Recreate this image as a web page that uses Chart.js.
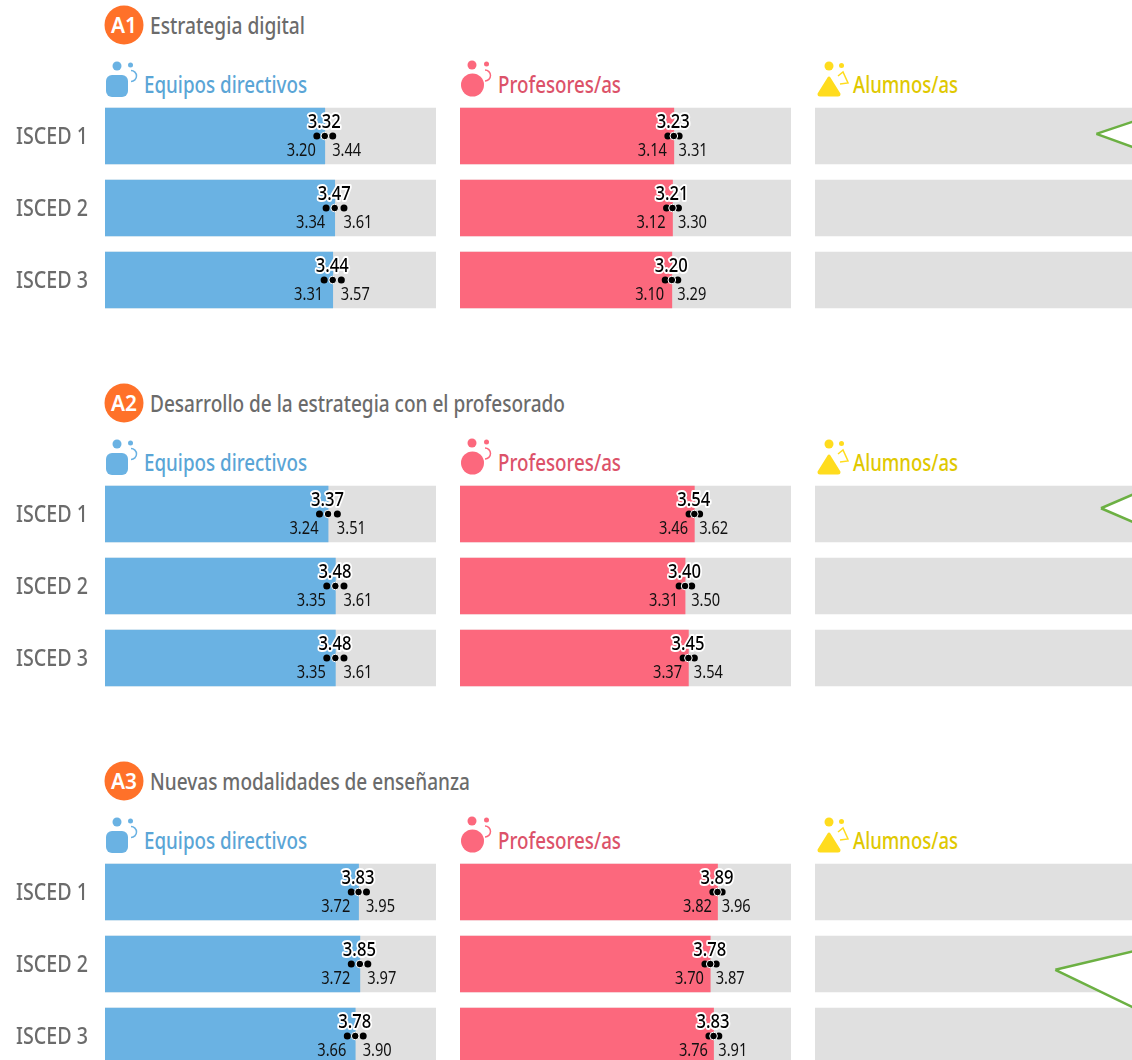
<!DOCTYPE html>
<html lang="es">
<head>
<meta charset="utf-8">
<title>Estrategia digital</title>
<script src="https://cdn.jsdelivr.net/npm/chart.js@4"></script>
<style>
    html, body { margin: 0; padding: 0; background: #fff; }
    body { width: 1132px; height: 1060px; overflow: hidden; position: relative; font-family: "Noto Sans", sans-serif; }
    .panel { position: absolute; height: 216px; }
    #headers { position: absolute; left: 0; top: 0; }
</style>
</head>
<body>
<svg id="headers" width="1132" height="1060"></svg>
<script>
// ejes
const categories = ['ISCED 1', 'ISCED 2', 'ISCED 3'];
const axisMax = 5;
const titles = ['Estrategia digital', 'Desarrollo de la estrategia con el profesorado', 'Nuevas modalidades de enseñanza'];
const badges = ['A1', 'A2', 'A3'];
const groups = ['Equipos directivos', 'Profesores/as', 'Alumnos/as'];

// A1
const a1EquiposMean = [3.32, 3.47, 3.44];
const a1EquiposLow = [3.20, 3.34, 3.31];
const a1EquiposHigh = [3.44, 3.61, 3.57];
const a1ProfesMean = [3.23, 3.21, 3.20];
const a1ProfesLow = [3.14, 3.12, 3.10];
const a1ProfesHigh = [3.31, 3.30, 3.29];
// A2
const a2EquiposMean = [3.37, 3.48, 3.48];
const a2EquiposLow = [3.24, 3.35, 3.35];
const a2EquiposHigh = [3.51, 3.61, 3.61];
const a2ProfesMean = [3.54, 3.40, 3.45];
const a2ProfesLow = [3.46, 3.31, 3.37];
const a2ProfesHigh = [3.62, 3.50, 3.54];
// A3
const a3EquiposMean = [3.83, 3.85, 3.78];
const a3EquiposLow = [3.72, 3.72, 3.66];
const a3EquiposHigh = [3.95, 3.97, 3.90];
const a3ProfesMean = [3.89, 3.78, 3.83];
const a3ProfesLow = [3.82, 3.70, 3.76];
const a3ProfesHigh = [3.96, 3.87, 3.91];

// triangulos verdes de la columna de alumnos: [valor, fila]
const a1Callout = [[4.25, -0.03], [5, -0.26], [5, 0.22], [4.25, -0.03]];
const a2Callout = [[4.32, -0.08], [5, -0.35], [5, 0.19], [4.32, -0.08]];
const a3Callout = [[3.63, 1.08], [5, 0.78], [5, 1.69], [3.63, 1.08]];

const blockTop = [100, 478, 856];
const columns = [
    { left: 0, width: 436, pad: 105, color: '#6ab2e3', text: '#5aa5d6' },
    { left: 460, width: 331, pad: 0, color: '#fc687d', text: '#dc5269' },
    { left: 815, width: 331, pad: 0, color: '#e0e0e0', text: '#e0c800' }
];

const fontFamily = '"Noto Sans", sans-serif';

// valores sobre las barras y etiquetas ISCED
const valueLabels = {
    id: 'valueLabels',
    afterDatasetsDraw(chart, args, opts) {
        const ctx = chart.ctx;
        const x = chart.scales.x;
        const y = chart.scales.y;
        ctx.save();
        ctx.textBaseline = 'middle';
        ctx.lineJoin = 'round';
        if (opts.rowLabels) {
            ctx.font = '500 23px ' + fontFamily;
            ctx.fillStyle = '#6b6b6b';
            ctx.textAlign = 'right';
            y.getLabels().forEach(function(label, i) {
                ctx.fillText(label, chart.chartArea.left - 17, y.getPixelForValue(i) + 1.5, 72);
            });
        }
        if (opts.mean) {
            opts.mean.forEach(function(m, i) {
                const cy = y.getPixelForValue(i);
                ctx.font = '18px ' + fontFamily;
                ctx.fillStyle = '#111';
                ctx.textAlign = 'right';
                ctx.fillText(opts.low[i].toFixed(2), x.getPixelForValue(opts.low[i]) - 1, cy + 15, 29);
                ctx.textAlign = 'left';
                ctx.fillText(opts.high[i].toFixed(2), x.getPixelForValue(opts.high[i]) - 0.5, cy + 15, 29);
                ctx.textAlign = 'center';
                ctx.font = '500 20px ' + fontFamily;
                ctx.strokeStyle = '#fff';
                ctx.lineWidth = 4;
                ctx.strokeText(m.toFixed(2), x.getPixelForValue(m) - 0.5, cy - 14, 33);
                ctx.fillStyle = '#000';
                ctx.fillText(m.toFixed(2), x.getPixelForValue(m) - 0.5, cy - 14, 33);
            });
        }
        ctx.restore();
    }
};

function scatterRows(values) {
    return values.map(function(v, i) { return { x: v, y: i }; });
}

function makeChart(blockIndex, colIndex, mean, low, high, callout) {
    const col = columns[colIndex];
    const canvas = document.createElement('canvas');
    const wrap = document.createElement('div');
    wrap.className = 'panel';
    wrap.style.left = col.left + 'px';
    wrap.style.top = blockTop[blockIndex] + 'px';
    wrap.style.width = col.width + 'px';
    wrap.appendChild(canvas);
    document.body.appendChild(wrap);

    const datasets = [{
        label: 'fondo',
        data: categories.map(function() { return axisMax; }),
        backgroundColor: '#e0e0e0',
        barThickness: 56,
        grouped: false,
        order: 5
    }];
    if (mean) {
        datasets.push({
            label: groups[colIndex],
            data: mean,
            backgroundColor: col.color,
            barThickness: 56,
            grouped: false,
            order: 4
        });
        datasets.push({
            type: 'scatter',
            label: 'intervalo',
            data: scatterRows(low).concat(scatterRows(high)),
            yAxisID: 'yRow',
            pointRadius: 3.5,
            pointBackgroundColor: '#000',
            pointBorderWidth: 0,
            order: 2
        });
        datasets.push({
            type: 'scatter',
            label: 'media',
            data: scatterRows(mean),
            yAxisID: 'yRow',
            pointRadius: 3.8,
            pointBackgroundColor: '#000',
            pointBorderColor: '#fff',
            pointBorderWidth: 1,
            order: 1
        });
    }
    if (callout) {
        datasets.push({
            type: 'scatter',
            label: 'nota',
            data: callout.map(function(p) { return { x: p[0], y: p[1] }; }),
            yAxisID: 'yRow',
            showLine: true,
            fill: 'shape',
            backgroundColor: '#fff',
            borderColor: '#6cb043',
            borderWidth: 2.5,
            pointRadius: 0,
            order: 1
        });
    }

    return new Chart(canvas, {
        type: 'bar',
        data: { labels: categories, datasets: datasets },
        options: {
            indexAxis: 'y',
            responsive: true,
            maintainAspectRatio: false,
            animation: false,
            layout: { autoPadding: false, padding: { left: col.pad, right: 0, top: 0, bottom: 0 } },
            scales: {
                x: { display: false, min: 0, max: axisMax },
                y: { display: false },
                yRow: { display: false, type: 'linear', offset: false, min: -0.5, max: 2.5, reverse: true }
            },
            plugins: {
                legend: { display: false },
                tooltip: { enabled: false },
                valueLabels: { mean: mean, low: low, high: high, rowLabels: colIndex === 0 }
            }
        },
        plugins: [valueLabels]
    });
}

makeChart(0, 0, a1EquiposMean, a1EquiposLow, a1EquiposHigh);
makeChart(0, 1, a1ProfesMean, a1ProfesLow, a1ProfesHigh);
makeChart(0, 2, null, null, null, a1Callout);
makeChart(1, 0, a2EquiposMean, a2EquiposLow, a2EquiposHigh);
makeChart(1, 1, a2ProfesMean, a2ProfesLow, a2ProfesHigh);
makeChart(1, 2, null, null, null, a2Callout);
makeChart(2, 0, a3EquiposMean, a3EquiposLow, a3EquiposHigh);
makeChart(2, 1, a3ProfesMean, a3ProfesLow, a3ProfesHigh);
makeChart(2, 2, null, null, null, a3Callout);

// cabeceras e iconos
const titleWidths = [155, 415, 320];
const groupX = [144, 498, 853];
const groupWidths = [163, 123, 105];
const fontStack = '&quot;Noto Sans&quot;, sans-serif';

function iconEquipos(c) {
    return '<circle cx="117" cy="66" r="4.5" fill="' + c + '"/><circle cx="130.5" cy="65" r="2.5" fill="' + c + '"/>' +
        '<rect x="106" y="75" width="22" height="22" rx="6" fill="' + c + '"/>' +
        '<path d="M131 70.5 a5.5 5.5 0 0 1 0 11" fill="none" stroke="' + c + '" stroke-width="1.5"/>';
}
function iconProfes(c) {
    return '<circle cx="472" cy="65" r="4.5" fill="' + c + '"/><circle cx="486.5" cy="64" r="2.5" fill="' + c + '"/>' +
        '<circle cx="472.5" cy="85" r="11.5" fill="' + c + '"/>' +
        '<path d="M485 70 a5.5 5.5 0 0 1 0 11" fill="none" stroke="' + c + '" stroke-width="1.5"/>';
}
function iconAlumnos(c) {
    return '<circle cx="829" cy="66" r="4.5" fill="' + c + '"/><circle cx="841.5" cy="65.5" r="2.5" fill="' + c + '"/>' +
        '<path d="M829 78 L819 94 Q819 95 820 95 L838 95 Q839 95 839 94 Z" fill="' + c + '" stroke="' + c + '" stroke-width="3" stroke-linejoin="round"/>' +
        '<path d="M838 76 L843 72 L848 83 L840 84" fill="none" stroke="' + c + '" stroke-width="1.5"/>';
}
const icons = [iconEquipos, iconProfes, iconAlumnos];

let svg = '';
blockTop.forEach(function(top, b) {
    const dy = top - 100;
    svg += '<circle cx="124" cy="' + (25 + dy) + '" r="19.5" fill="#ff7129"/>';
    svg += '<text x="111" y="' + (33 + dy) + '" fill="#fff" font-weight="600" font-size="22" textLength="26" lengthAdjust="spacingAndGlyphs" font-family="' + fontStack + '">' + badges[b] + '</text>';
    svg += '<text x="150" y="' + (34 + dy) + '" textLength="' + titleWidths[b] + '" lengthAdjust="spacingAndGlyphs" fill="#6b6b6b" font-weight="500" font-size="23" font-family="' + fontStack + '">' + titles[b] + '</text>';
    groups.forEach(function(g, i) {
        svg += '<g transform="translate(0,' + dy + ')">' + icons[i](i === 2 ? '#ffdc1e' : columns[i].color) + '</g>';
        svg += '<text x="' + groupX[i] + '" y="' + (93 + dy) + '" textLength="' + groupWidths[i] + '" lengthAdjust="spacingAndGlyphs" fill="' + columns[i].text + '" font-weight="500" font-size="24" font-family="' + fontStack + '">' + g + '</text>';
    });
});
document.getElementById('headers').innerHTML = svg;
</script>
</body>
</html>
